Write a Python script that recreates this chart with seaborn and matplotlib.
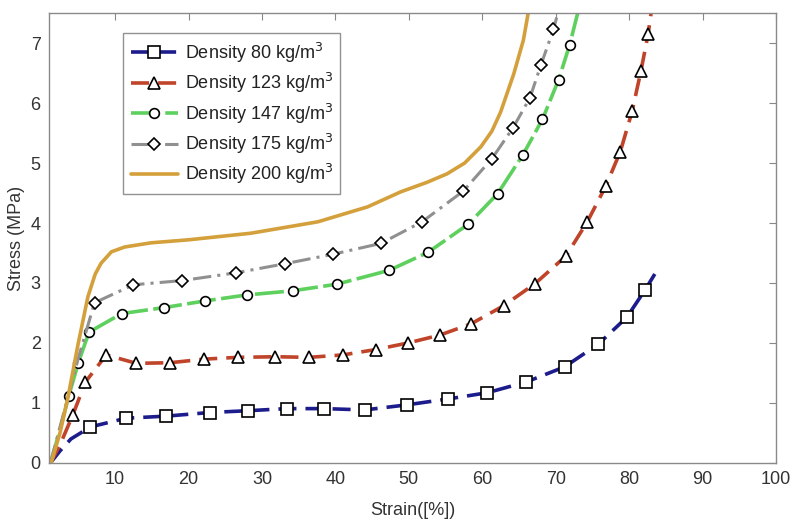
import matplotlib
matplotlib.use("Agg")
import matplotlib.pyplot as plt
import seaborn as sns

# stress-strain curves (strain %, stress MPa)
x80 = [1.2, 2.5, 4.0, 6.65, 11.5, 17.0, 22.9, 28.1, 33.4, 38.5, 44.0, 49.7, 55.4,
       60.7, 66.0, 71.2, 75.8, 79.7, 82.2, 83.5]
y80 = [0.0, 0.2, 0.4, 0.6, 0.745, 0.78, 0.84, 0.87, 0.905, 0.905, 0.883, 0.967, 1.067,
       1.17, 1.35, 1.6, 1.98, 2.43, 2.89, 3.15]

x123 = [1.2, 2.5, 4.25, 5.97, 8.8, 12.9, 17.5, 22.1, 26.7, 31.8, 36.4, 41.0, 45.5,
        49.9, 54.2, 58.5, 62.9, 67.2, 71.4, 74.3, 76.8, 78.8, 80.4, 81.6, 82.6, 83.1]
y123 = [0.0, 0.3, 0.8, 1.35, 1.8, 1.66, 1.67, 1.73, 1.76, 1.77, 1.76, 1.8, 1.89,
        2.0, 2.13, 2.32, 2.62, 2.99, 3.45, 4.02, 4.61, 5.19, 5.86, 6.53, 7.16, 7.6]

x147 = [1.2, 2.5, 3.7, 5.0, 6.45, 10.9, 16.7, 22.2, 27.9, 34.2, 40.2, 47.3, 52.6,
        58.1, 62.1, 65.5, 68.2, 70.4, 71.9, 73.2]
y147 = [0.0, 0.55, 1.12, 1.67, 2.18, 2.49, 2.59, 2.70, 2.80, 2.87, 2.98, 3.21, 3.51,
        3.98, 4.49, 5.13, 5.73, 6.39, 6.97, 7.6]

x175 = [1.2, 2.5, 3.7, 5.0, 7.2, 12.5, 19.1, 26.5, 33.1, 39.7, 46.2, 51.8, 57.4,
        61.3, 64.2, 66.5, 68.0, 69.7, 70.5]
y175 = [0.0, 0.6, 1.15, 1.75, 2.67, 2.97, 3.04, 3.17, 3.32, 3.48, 3.66, 4.02, 4.53,
        5.07, 5.59, 6.09, 6.64, 7.23, 7.6]

x200 = [1.3, 2.5, 3.6, 4.9, 6.3, 7.3, 8.1, 9.5, 11.3, 14.9, 20.0, 28.5, 37.6, 44.4,
        48.9, 52.5, 55.2, 57.6, 59.8, 61.3, 62.5, 64.3, 65.6, 66.4]
y200 = [0.0, 0.5, 1.1, 1.94, 2.77, 3.15, 3.33, 3.52, 3.6, 3.67, 3.72, 3.83, 4.02, 4.27,
        4.52, 4.68, 4.82, 5.0, 5.27, 5.53, 5.85, 6.49, 7.05, 7.6]

labels = ["Density 80 kg/m$^3$", "Density 123 kg/m$^3$", "Density 147 kg/m$^3$",
          "Density 175 kg/m$^3$", "Density 200 kg/m$^3$"]

sns.set_style("white")
plt.rcParams['font.family'] = ['Liberation Sans', 'DejaVu Sans']

fig = plt.figure(figsize=(7.95, 5.26), dpi=100)
ax = fig.add_axes([0.0616, 0.120, 0.9145, 0.855])

mk = dict(markerfacecolor="white", markeredgecolor="black", markeredgewidth=1.2)

sns.lineplot(x=x80, y=y80, ax=ax, color="#1c1c8c", linewidth=2.6,
             linestyle=(0, (5, 2.5)), marker="s", markersize=9,
             markevery=list(range(3, len(x80) - 1)), label=labels[0], **mk)
sns.lineplot(x=x123, y=y123, ax=ax, color="#c0442a", linewidth=2.6,
             linestyle=(0, (5, 2.5)), marker="^", markersize=8,
             markevery=list(range(2, len(x123) - 1)), label=labels[1], **mk)
sns.lineplot(x=x147, y=y147, ax=ax, color="#5ed05e", linewidth=2.6,
             linestyle=(0, (8, 1.5)), marker="o", markersize=7,
             markevery=list(range(2, len(x147) - 1)), label=labels[2], **mk)
sns.lineplot(x=x175, y=y175, ax=ax, color="#909090", linewidth=2.2,
             linestyle=(0, (6, 2, 1, 2)), marker="D", markersize=6.5,
             markevery=list(range(4, len(x175) - 1)), label=labels[3], **mk)
sns.lineplot(x=x200, y=y200, ax=ax, color="#d4a03c", linewidth=2.6,
             label=labels[4])

ax.set_xlim(1, 100)
ax.set_ylim(0, 7.5)
ax.set_xticks(range(10, 101, 10))
ax.set_yticks(range(0, 8))
ax.tick_params(direction="in", top=True, right=True, length=5, color="#888888",
               labelsize=13, labelcolor="#333333", pad=6)
for s in ax.spines.values():
    s.set_color("#8a8a8a")
    s.set_linewidth(1.0)

ax.set_xlabel("Strain([%])", fontsize=13, color="#333333", labelpad=10)
ax.set_ylabel("Stress (MPa)", fontsize=13, color="#333333", labelpad=4)

leg = ax.legend(loc="upper left", bbox_to_anchor=(0.09, 0.975), fontsize=13,
                frameon=True, fancybox=False, edgecolor="#777777",
                handlelength=2.6, handletextpad=0.4, borderpad=0.4,
                labelspacing=0.35)
leg.get_frame().set_linewidth(1.0)
for t in leg.get_texts():
    t.set_color("#222222")

fig.savefig("out.png", dpi=100)
